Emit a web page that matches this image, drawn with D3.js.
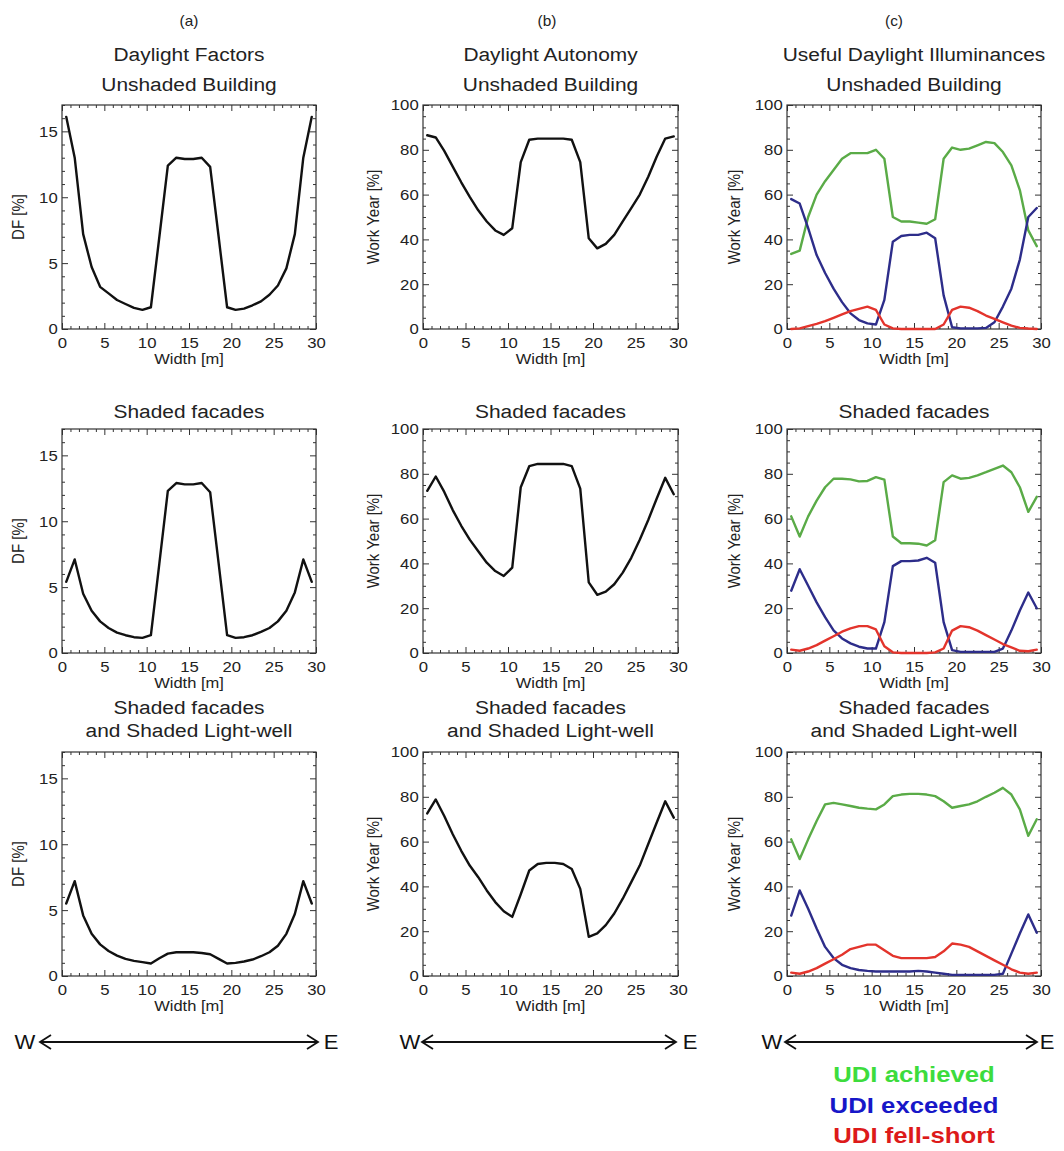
<!DOCTYPE html>
<html>
<head>
<meta charset="utf-8">
<script src="https://cdn.jsdelivr.net/npm/d3@7"></script>
<style>
  html, body { margin: 0; padding: 0; background: #fff; }
  svg { display: block; font-family: "Liberation Sans", Arial, Helvetica, sans-serif; }
</style>
</head>
<body>
<svg id="fig" width="1064" height="1151"></svg>
<script>
// Sample positions across the building width [m]
const widthM = [0.5, 1.5, 2.5, 3.5, 4.5, 5.5, 6.5, 7.5, 8.5, 9.5,
                10.5, 11.5, 12.5, 13.5, 14.5, 15.5, 16.5, 17.5, 18.5, 19.5,
                20.5, 21.5, 22.5, 23.5, 24.5, 25.5, 26.5, 27.5, 28.5, 29.5];

// Daylight factors [%]
const dfUnshaded   = [16.1, 13.0, 7.2, 4.7, 3.2, 2.7, 2.2, 1.9, 1.6, 1.45, 1.65, 7.0, 12.4, 13.0, 12.9, 12.9, 13.0, 12.3, 7.0, 1.65, 1.45, 1.55, 1.8, 2.1, 2.6, 3.3, 4.6, 7.2, 13.0, 16.1];
const dfShaded     = [5.4, 7.1, 4.5, 3.2, 2.4, 1.9, 1.55, 1.35, 1.2, 1.15, 1.35, 6.8, 12.3, 12.9, 12.8, 12.8, 12.9, 12.2, 6.8, 1.35, 1.15, 1.2, 1.35, 1.6, 1.9, 2.4, 3.2, 4.6, 7.1, 5.4];
const dfShadedWell = [5.5, 7.2, 4.6, 3.2, 2.4, 1.9, 1.55, 1.3, 1.15, 1.05, 0.95, 1.35, 1.7, 1.8, 1.8, 1.8, 1.75, 1.65, 1.3, 0.95, 1.0, 1.1, 1.25, 1.5, 1.8, 2.3, 3.2, 4.7, 7.2, 5.5];

// Daylight autonomy [% of work year]
const daUnshaded   = [86.5, 85.5, 79.5, 72.5, 65.5, 59, 53, 48, 44, 42, 45, 74.5, 84.5, 85, 85, 85, 85, 84.5, 74.5, 40.5, 36, 38, 42, 48, 54, 60, 68, 77, 85, 86];
const daShaded     = [72.4, 78.8, 71.9, 63.8, 56.8, 50.6, 45.4, 40.3, 36.6, 34.4, 38.1, 74, 83.4, 84.4, 84.4, 84.4, 84.4, 83.4, 73.4, 31.5, 26, 27.4, 30.7, 35.9, 42.5, 50.6, 59.4, 69, 78.2, 70.9];
const daShadedWell = [72.6, 78.8, 71.4, 63.3, 55.9, 49.3, 44.1, 38.2, 33, 28.9, 26.4, 36.5, 47.1, 50, 50.5, 50.5, 50, 47.8, 38.9, 17.5, 19, 22.7, 27.9, 34.5, 41.9, 49.3, 58.9, 68.5, 78, 70.7];

// Useful daylight illuminances [% of work year]: achieved / exceeded / fell-short
const udiAchUnshaded  = [33.5, 35, 50, 60, 66, 71, 76, 78.5, 78.5, 78.5, 80, 76, 50, 48, 48, 47.5, 47, 49, 76, 81, 80, 80.5, 82, 83.5, 83, 79, 73, 62, 44, 37];
const udiExcUnshaded  = [58, 56, 45, 33, 25, 18, 12, 7, 4, 2.5, 2, 13, 39, 41.5, 42, 42, 43, 40.5, 15, 0.8, 0.3, 0.3, 0.3, 0.5, 3, 10, 18, 31, 50, 54];
const udiFellUnshaded = [0, 0.3, 1.3, 2.3, 3.5, 5, 6.5, 8, 9, 10, 8.5, 2, 0.3, 0, 0, 0, 0, 0, 2, 8.5, 10, 9.5, 8, 6, 4.5, 3, 1.5, 0.5, 0.2, 0];

const udiAchShaded  = [61, 52, 61, 68, 74, 77.8, 77.8, 77.5, 76.6, 76.8, 78.5, 77.4, 52, 49, 49, 48.8, 48, 50.3, 76.3, 79.3, 77.8, 78.2, 79.3, 80.7, 82.2, 83.7, 80.7, 74, 63, 69.7];
const udiExcShaded  = [27.8, 37.4, 30, 22.6, 16, 10.1, 6.5, 4.3, 2.8, 2, 2, 13.8, 38.8, 41, 41, 41.3, 42.5, 40.3, 13.8, 1.3, 0.5, 0.5, 0.5, 0.5, 0.5, 2, 10, 19, 27, 20];
const udiFellShaded = [1.5, 1, 2, 3.5, 5.5, 7.5, 9.5, 11, 12, 12, 10.5, 3, 0.3, 0, 0, 0, 0, 0.3, 2, 10, 12, 11.5, 10, 8, 6, 4, 2.5, 1, 0.8, 1.5];

const udiAchShadedWell  = [61, 52.2, 61, 69.2, 76.6, 77.3, 76.6, 75.9, 75.1, 74.7, 74.4, 76.6, 80.3, 81, 81.3, 81.3, 81, 80.3, 78, 75.1, 75.9, 76.6, 78, 80, 81.8, 84, 81, 74.4, 62.6, 70];
const udiExcShadedWell  = [27, 38.2, 30, 21.2, 13, 8, 5, 3.5, 2.7, 2.3, 2, 2, 2, 2, 2, 2.3, 2, 1.5, 1, 0.5, 0.5, 0.5, 0.5, 0.5, 0.5, 1, 10, 19, 27.5, 19.3];
const udiFellShadedWell = [1.5, 1, 2, 3.5, 5.5, 7.5, 9.5, 12, 13, 14, 14, 11.5, 9, 8, 8, 8, 8, 8.5, 11, 14.5, 14, 13, 11, 9, 7, 5, 3, 1.5, 1, 1.5];

// Tick labels
const xTicks  = [0, 5, 10, 15, 20, 25, 30];
const dfTicks = [0, 5, 10, 15];
const wyTicks = [0, 20, 40, 60, 80, 100];

// Text
const panelLetters = ["(a)", "(b)", "(c)"];
const columnTitles = ["Daylight Factors", "Daylight Autonomy", "Useful Daylight Illuminances"];
const rowTitles = [["Unshaded Building"], ["Shaded facades"], ["Shaded facades", "and Shaded Light-well"]];
const legendLabels = ["UDI achieved", "UDI exceeded", "UDI fell-short"];

// ---- layout ----
const cols = [
  { x0: 62,  x1: 316,  letterX: 189, yTitleX: 24,  wX: 25,  ax0: 40,  ax1: 318,  eX: 331 },
  { x0: 423, x1: 678,  letterX: 547, yTitleX: 379, wX: 410, ax0: 422, ax1: 676,  eX: 690 },
  { x0: 787, x1: 1041, letterX: 894, yTitleX: 740, wX: 772, ax0: 785, ax1: 1037, eX: 1047 }
];
const rowTops = [105, 429, 752];
const boxH = 224;
const titleBaselines = [[91], [418], [714, 737]];

const lineColors = { ach: "#5aab47", exc: "#2d2d8a", fell: "#e3342c", black: "#111" };
const legendColors = ["#3ddc3d", "#1717c8", "#dd1a1a"];
const textColor = "#222";

const svg = d3.select("#fig");

function stretchText(parent, x, y, str, size, opts = {}) {
  const sx = opts.sx ?? 1.1;
  const rot = opts.rotate ? ` rotate(${opts.rotate})` : "";
  const t = parent.append("text")
    .attr("transform", `translate(${x},${y}) scale(${sx},1)${rot}`)
    .attr("text-anchor", opts.anchor || "middle")
    .attr("font-size", size)
    .attr("fill", opts.fill || textColor)
    .text(str);
  if (opts.bold) t.attr("font-weight", "bold");
  return t;
}

function styleAxis(sel, labelled) {
  sel.attr("font-family", null).attr("font-size", null);
  sel.select(".domain").remove();
  sel.selectAll(".tick line").attr("stroke", "#333").attr("stroke-width", 1);
  if (labelled) {
    sel.selectAll(".tick text")
      .attr("font-size", 15.5)
      .attr("fill", textColor);
  } else {
    sel.selectAll(".tick text").remove();
  }
}

function drawPanel(ci, ri, yDomain, yTicks, yMinorStep, yTitle, series) {
  const col = cols[ci];
  const top = rowTops[ri];
  const bottom = top + boxH;
  const x = d3.scaleLinear().domain([0, 30]).range([col.x0, col.x1]);
  const y = d3.scaleLinear().domain(yDomain).range([bottom, top]);
  const g = svg.append("g");

  const xMinor = x.ticks(30).filter(v => v % 5 !== 0);
  const yMinor = d3.range(yDomain[0], yDomain[1] + 1e-9, yMinorStep).filter(v => !yTicks.includes(v));

  // minor ticks on all four sides
  g.append("g").attr("transform", `translate(0,${bottom})`)
    .call(d3.axisBottom(x).tickValues(xMinor).tickSizeInner(-3).tickSizeOuter(0).tickFormat(""))
    .call(s => styleAxis(s, false));
  g.append("g").attr("transform", `translate(0,${top})`)
    .call(d3.axisTop(x).tickValues(xMinor).tickSizeInner(-3).tickSizeOuter(0).tickFormat(""))
    .call(s => styleAxis(s, false));
  g.append("g").attr("transform", `translate(${col.x0},0)`)
    .call(d3.axisLeft(y).tickValues(yMinor).tickSizeInner(-3).tickSizeOuter(0).tickFormat(""))
    .call(s => styleAxis(s, false));
  g.append("g").attr("transform", `translate(${col.x1},0)`)
    .call(d3.axisRight(y).tickValues(yMinor).tickSizeInner(-3).tickSizeOuter(0).tickFormat(""))
    .call(s => styleAxis(s, false));

  // major ticks
  g.append("g").attr("transform", `translate(0,${bottom})`)
    .call(d3.axisBottom(x).tickValues(xTicks).tickSizeInner(-6).tickSizeOuter(0).tickPadding(8))
    .call(s => styleAxis(s, true))
    .call(s => s.selectAll(".tick text").attr("transform", "scale(1.08,1)"));
  g.append("g").attr("transform", `translate(0,${top})`)
    .call(d3.axisTop(x).tickValues(xTicks).tickSizeInner(-6).tickSizeOuter(0).tickFormat(""))
    .call(s => styleAxis(s, false));
  g.append("g").attr("transform", `translate(${col.x0},0)`)
    .call(d3.axisLeft(y).tickValues(yTicks).tickSizeInner(-6).tickSizeOuter(0).tickPadding(4))
    .call(s => styleAxis(s, true))
    .call(s => s.selectAll(".tick text").attr("transform", "scale(1.08,1)"));
  g.append("g").attr("transform", `translate(${col.x1},0)`)
    .call(d3.axisRight(y).tickValues(yTicks).tickSizeInner(-6).tickSizeOuter(0).tickFormat(""))
    .call(s => styleAxis(s, false));

  // frame
  g.append("rect")
    .attr("x", col.x0).attr("y", top)
    .attr("width", col.x1 - col.x0).attr("height", boxH)
    .attr("fill", "none").attr("stroke", "#333").attr("stroke-width", 1.2);

  // curves
  const line = d3.line().x(d => x(d[0])).y(d => y(d[1]));
  series.forEach(s => {
    g.append("path")
      .datum(widthM.map((w, i) => [w, s.values[i]]))
      .attr("d", line)
      .attr("fill", "none")
      .attr("stroke", s.color)
      .attr("stroke-width", 2.4)
      .attr("stroke-linejoin", "round")
      .attr("stroke-linecap", "round");
  });

  // axis titles
  stretchText(g, (col.x0 + col.x1) / 2, bottom + 35, "Width [m]", 15);
  stretchText(g, col.yTitleX, (top + bottom) / 2, yTitle, 15, { rotate: -90, sx: 1.07 });

  // panel titles
  const cx = (col.x0 + col.x1) / 2;
  rowTitles[ri].forEach((t, k) => stretchText(g, cx, titleBaselines[ri][k], t, 19));
  if (ri === 0) {
    stretchText(g, cx, 61, columnTitles[ci], 19);
    stretchText(g, col.letterX, 26, panelLetters[ci], 14);
  }
}

const dfRows = [dfUnshaded, dfShaded, dfShadedWell];
const daRows = [daUnshaded, daShaded, daShadedWell];
const udiRows = [
  [udiAchUnshaded, udiExcUnshaded, udiFellUnshaded],
  [udiAchShaded, udiExcShaded, udiFellShaded],
  [udiAchShadedWell, udiExcShadedWell, udiFellShadedWell]
];

for (let r = 0; r < 3; r++) {
  drawPanel(0, r, [0, 17], dfTicks, 1, "DF [%]", [{ values: dfRows[r], color: lineColors.black }]);
  drawPanel(1, r, [0, 100], wyTicks, 5, "Work Year [%]", [{ values: daRows[r], color: lineColors.black }]);
  drawPanel(2, r, [0, 100], wyTicks, 5, "Work Year [%]", [
    { values: udiRows[r][0], color: lineColors.ach },
    { values: udiRows[r][1], color: lineColors.exc },
    { values: udiRows[r][2], color: lineColors.fell }
  ]);
}

// West-East orientation arrows
const arrowY = 1042;
cols.forEach(col => {
  const g = svg.append("g").attr("stroke", "#111").attr("stroke-width", 1.8).attr("fill", "none");
  g.append("line").attr("x1", col.ax0).attr("x2", col.ax1).attr("y1", arrowY).attr("y2", arrowY);
  g.append("polyline").attr("points", `${col.ax0 + 11},${arrowY - 7} ${col.ax0},${arrowY} ${col.ax0 + 11},${arrowY + 7}`);
  g.append("polyline").attr("points", `${col.ax1 - 11},${arrowY - 7} ${col.ax1},${arrowY} ${col.ax1 - 11},${arrowY + 7}`);
  stretchText(svg, col.wX, arrowY + 7, "W", 21, { sx: 1.05, fill: "#111" });
  stretchText(svg, col.eX, arrowY + 7, "E", 21, { sx: 1.05, fill: "#111" });
});

// UDI legend
const legendBaselines = [1082, 1113, 1143];
legendLabels.forEach((t, i) => {
  stretchText(svg, (cols[2].x0 + cols[2].x1) / 2, legendBaselines[i], t, 22, { bold: true, sx: 1.17, fill: legendColors[i] });
});
</script>
</body>
</html>
